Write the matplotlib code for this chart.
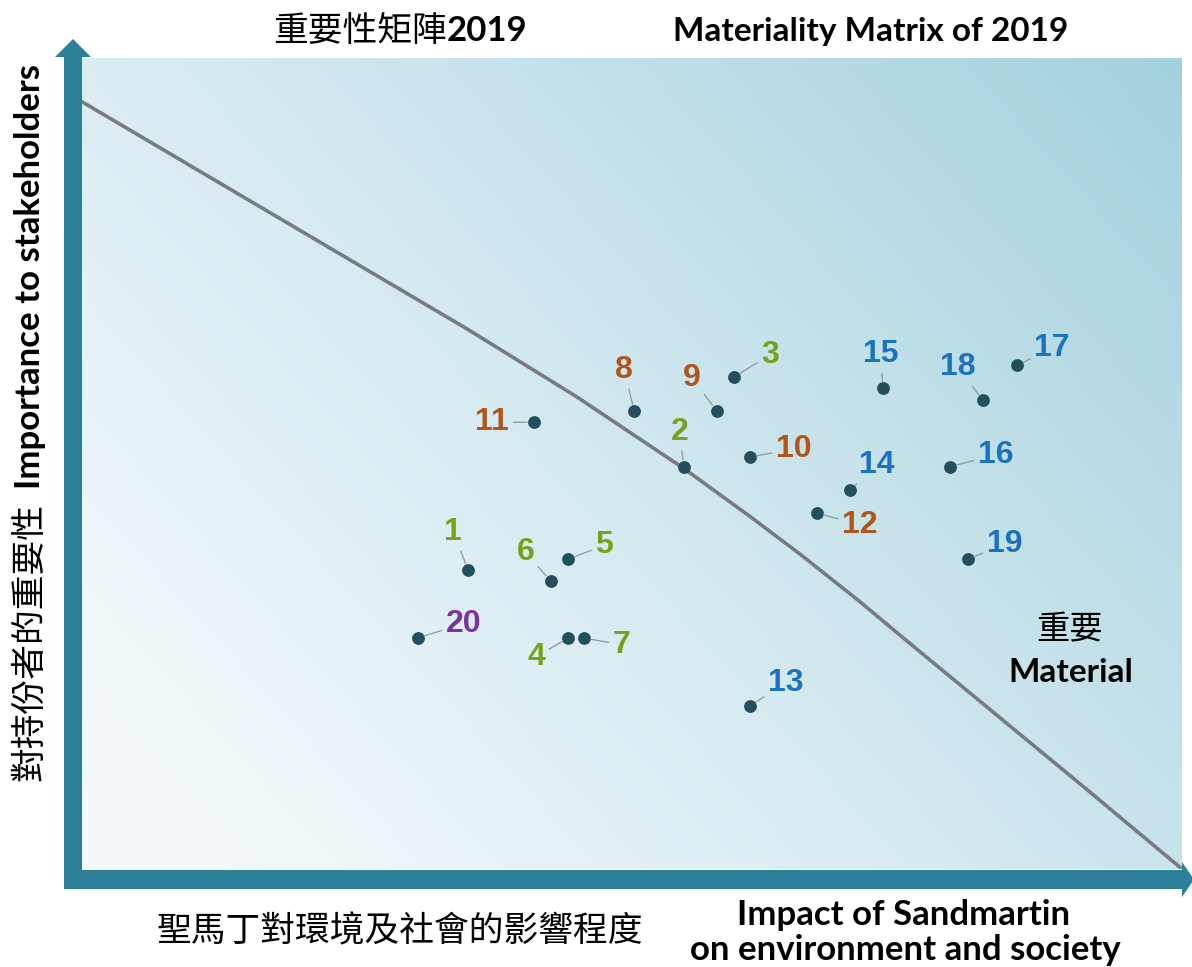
import numpy as np
import matplotlib
matplotlib.use("Agg")
import matplotlib.pyplot as plt
from matplotlib import font_manager
from matplotlib.patches import Polygon

W, H = 1192, 967

# materiality issues: id, impact (x), importance (y)
issue_ids = [1, 2, 3, 4, 5, 6, 7, 8, 9, 10, 11, 12, 13, 14, 15, 16, 17, 18, 19, 20]
impact = [35.1, 54.7, 59.3, 44.2, 44.2, 42.6, 45.6, 50.2, 57.7, 60.7,
          41.1, 66.8, 60.7, 69.8, 72.8, 78.9, 85.0, 81.9, 80.5, 30.5]
importance = [36.9, 49.6, 60.7, 28.5, 38.2, 35.5, 28.5, 56.5, 56.5, 50.8,
              55.1, 43.9, 20.1, 46.7, 59.3, 49.6, 62.1, 57.8, 38.2, 28.5]
groups = ["env", "env", "env", "env", "env", "env", "env",
          "gov", "gov", "gov", "gov", "gov",
          "soc", "soc", "soc", "soc", "soc", "soc", "soc",
          "other"]

# threshold curve
curve_x = [0, 35.0, 45.0, 54.7, 60.7, 65.3, 70.5, 75.9, 91.0, 100]
curve_y = [94.6, 66.6, 58.2, 49.4, 43.5, 38.8, 33.2, 27.1, 10.2, 0]

group_colors = {"env": "#76a21c", "gov": "#b0561c", "soc": "#1b72bf", "other": "#7a33a2"}

# label offsets in pixels (dx, dy)
label_offsets = [(-15, 38), (-4, 35), (36, 22), (-32, -19), (36, 14), (-25, 29),
                 (38, -7), (-10, 41), (-25, 33), (44, 8), (-42, 0), (43, -12),
                 (36, 23), (27, 25), (-2, 34), (46, 12), (35, 17), (-25, 33),
                 (37, 15), (46, 14)]

names = {f.name for f in font_manager.fontManager.ttflist}
narrow = "Liberation Sans Narrow" if "Liberation Sans Narrow" in names else "Lato"
cjk = ["Noto Sans CJK TC", "DejaVu Sans"]

fig = plt.figure(figsize=(W / 100, H / 100), dpi=100)
fig.patch.set_facecolor("white")


def fx(x):
    return x / W


def fy(y):
    return 1 - y / H


ax = fig.add_axes([fx(82), fy(869), 1100 / W, 811 / H])
ax.set_xlim(0, 100)
ax.set_ylim(0, 100)
ax.axis("off")

# background gradient
gx, gy = np.meshgrid(np.linspace(0, 1, 300), np.linspace(0, 1, 300))
t = (gx * 0.6 + gy * 0.4)
t = np.clip(t, 0, 1) ** 1.2
light = np.array([0.965, 0.98, 0.99])
dark = np.array([0.64, 0.82, 0.87])
img = light[None, None, :] + t[..., None] * (dark - light)[None, None, :]
ax.imshow(img, origin="lower", extent=(0, 100, 0, 100), aspect="auto", zorder=0)

ax.plot(curve_x, curve_y, color="#777c80", lw=2.6, zorder=2, solid_joinstyle="round")

ax.scatter(impact, importance, s=85, color="#234f5c", zorder=4, linewidths=0)

for i, n in enumerate(issue_ids):
    ax.annotate(str(n), (impact[i], importance[i]), xytext=label_offsets[i],
                textcoords="offset pixels", ha="center", va="center",
                fontsize=23, fontweight="bold", family="Liberation Sans",
                color=group_colors[groups[i]], zorder=5,
                arrowprops=dict(arrowstyle="-", color="#8c999e", lw=0.9,
                                shrinkA=1, shrinkB=5))

# axis arrows
arrow_col = "#2c7f98"
v_arrow = [(64, 889), (82, 889), (82, 57), (91, 57), (73, 39), (55, 57), (64, 57)]
h_arrow = [(64, 870), (1182, 870), (1182, 862), (1194, 879.5), (1182, 897),
           (1182, 889), (64, 889)]
for pts in (v_arrow, h_arrow):
    fig.add_artist(Polygon([(fx(a), fy(b)) for a, b in pts], closed=True,
                           transform=fig.transFigure, color=arrow_col, lw=0))

# titles
fig.text(fx(447), fy(31), "重要性矩陣", ha="right", va="center", fontsize=25, family=cjk)
fig.text(fx(447), fy(31), "2019", ha="left", va="center", fontsize=25,
         fontweight="bold", family="Lato")
fig.text(fx(871), fy(31), "Materiality Matrix of 2019", ha="center", va="center",
         fontsize=24, fontweight="bold", family="Lato")

# x axis labels
fig.text(fx(400), fy(932), "聖馬丁對環境及社會的影響程度", ha="center", va="center",
         fontsize=25, family=cjk)
fig.text(fx(904), fy(915), "Impact of Sandmartin", ha="center", va="center",
         fontsize=25, fontweight="bold", family=narrow)
fig.text(fx(905), fy(950), "on environment and society", ha="center", va="center",
         fontsize=25, fontweight="bold", family=narrow)

# y axis labels
fig.text(fx(30), fy(642), "對持份者的重要性", ha="center", va="center", rotation=90,
         fontsize=25, family=cjk)
fig.text(fx(30), fy(277), "Importance to stakeholders", ha="center", va="center",
         rotation=90, fontsize=25, fontweight="bold", family=narrow)

# material zone label
fig.text(fx(1070), fy(630), "重要", ha="center", va="center", fontsize=24, family=cjk)
fig.text(fx(1071), fy(672), "Material", ha="center", va="center", fontsize=24,
         fontweight="bold", family="Lato")

fig.savefig("out.png", dpi=100)
